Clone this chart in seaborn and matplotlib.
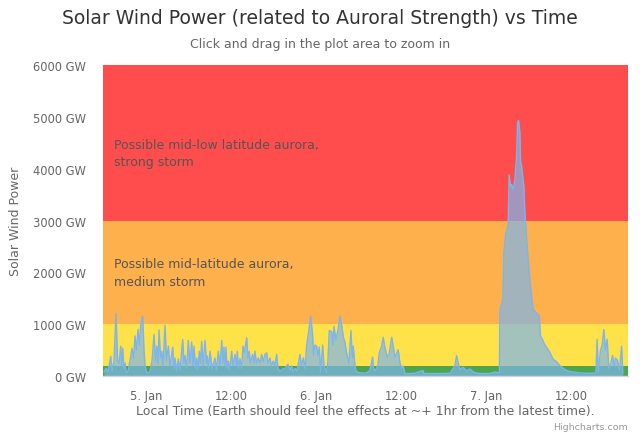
import matplotlib
matplotlib.use("Agg")
import matplotlib.pyplot as plt
import seaborn as sns
import pandas as pd

# ---- data (hours relative to 5 Jan 00:00, values in GW) ----
hours = [-5.93, -5.65, -5.36, -4.98, -4.80, -4.52, -4.24, -4.02, -3.81, -3.57,
         -3.43, -3.29, -3.11, -2.96, -2.82, -2.54, -2.26, -1.98, -1.76, -1.55,
         -1.34, -1.13, -0.92, -0.75, -0.47, -0.28, -0.14, 0.07, 0.28, 0.56,
         0.85, 1.13, 1.34, 1.51, 1.69, 1.84, 2.05, 2.22, 2.40, 2.68,
         2.89, 3.15, 3.39, 3.77, 3.95, 4.09, 4.33, 4.56, 4.80, 5.18,
         5.36, 5.51, 5.75, 5.97, 6.21, 6.45, 6.64, 6.78, 6.99, 7.16,
         7.34, 7.52, 7.69, 7.86, 8.05, 8.33, 8.54, 8.65, 8.82, 9.04,
         9.32, 9.74, 9.95, 10.21, 10.45, 10.69, 10.87, 11.01, 11.15, 11.29,
         11.44, 11.62, 11.79, 12.10, 12.28, 12.57, 12.78, 12.89, 13.06, 13.27,
         13.51, 13.69, 13.88, 14.22, 14.40, 14.58, 14.75, 15.06, 15.25, 15.39,
         15.60, 15.85, 16.09, 16.33, 16.52, 16.80, 17.04, 17.22, 17.51, 17.72,
         17.97, 18.21, 18.45, 18.64, 18.92, 19.20, 19.62, 20.05, 20.33, 20.57,
         20.75, 21.04, 21.32, 21.60, 21.74, 21.95, 22.21, 22.45, 22.69, 22.91,
         23.25, 23.53, 23.65, 23.86, 24.10, 24.28, 24.47, 24.66, 24.95, 25.13,
         25.51, 25.69, 25.88, 26.22, 26.40, 26.54, 26.82, 27.15, 27.39, 27.63,
         27.86, 28.09, 28.33, 28.66, 28.94, 29.15, 29.27, 29.51, 29.65, 29.97,
         30.49, 31.16, 31.62, 32.01, 32.12, 32.33, 32.75, 32.94, 33.28, 33.50,
         33.74, 34.07, 34.35, 34.69, 34.91, 35.15, 35.62, 35.86, 36.14, 36.33,
         36.57, 37.27, 37.98, 39.11, 39.25, 40.10, 41.51, 42.92, 43.38, 43.62,
         43.86, 44.09, 44.33, 44.80, 45.28, 45.74, 46.21, 46.69, 47.15, 48.57,
         49.27, 49.91, 49.98, 50.12, 50.36, 50.47, 50.54, 50.82, 51.15, 51.29,
         51.49, 51.63, 51.86, 52.10, 52.33, 52.48, 52.62, 52.80, 52.90, 53.04,
         53.18, 53.37, 53.51, 53.75, 53.97, 54.21, 54.45, 54.68, 54.92, 55.24,
         55.53, 55.72, 56.01, 56.33, 56.57, 57.04, 57.50, 57.98, 58.45, 58.91,
         59.39, 59.86, 60.81, 61.98, 62.68, 63.53, 63.71, 63.88, 64.19, 64.42,
         64.66, 64.90, 65.13, 65.36, 65.65, 65.89, 66.12, 66.31, 66.59, 66.88,
         67.16, 67.34]

power_gw = [80, 150, 90, 384, 100, 300, 1210, 300, 250, 580,
            200, 540, 150, 250, 70, 100, 300, 540, 350, 775,
            500, 900, 600, 1000, 1160, 500, 200, 80, 60, 90,
            300, 806, 300, 580, 250, 890, 350, 480, 200, 980,
            300, 580, 200, 560, 150, 350, 100, 330, 120, 710,
            250, 400, 150, 690, 250, 660, 200, 580, 150, 350,
            120, 480, 250, 670, 200, 690, 250, 390, 150, 480,
            150, 350, 120, 480, 200, 690, 250, 560, 200, 560,
            150, 290, 120, 480, 200, 420, 200, 480, 150, 340,
            150, 580, 450, 740, 350, 480, 250, 420, 250, 480,
            250, 350, 250, 420, 280, 420, 450, 250, 350, 200,
            290, 200, 420, 150, 90, 130, 150, 230, 110, 200,
            90, 150, 100, 300, 420, 200, 350, 150, 600, 800,
            1160, 800, 400, 600, 580, 400, 560, 80, 600, 200,
            70, 300, 880, 860, 600, 960, 700, 920, 1160, 990,
            760, 650, 450, 250, 880, 350, 580, 200, 100, 70,
            60, 60, 110, 370, 150, 100, 200, 450, 580, 750,
            550, 370, 430, 750, 580, 370, 510, 250, 160, 190,
            50, 50, 55, 110, 50, 50, 50, 55, 150, 200,
            400, 250, 130, 170, 100, 140, 80, 60, 50, 50,
            80, 60, 1290, 1350, 1450, 1800, 2380, 2770, 2900, 3880,
            3650, 3700, 3600, 3800, 4230, 4900, 4930, 4700, 4140, 4050,
            3880, 3650, 3150, 2630, 2250, 1860, 1540, 1290, 1250, 1200,
            1160, 775, 700, 600, 555, 460, 326, 280, 200, 150,
            110, 90, 70, 55, 55, 60, 710, 80, 500, 600,
            900, 500, 710, 150, 250, 400, 200, 350, 300, 120,
            580, 60]

tick_hours = [0, 12, 24, 36, 48, 60]
tick_labels = ["5. Jan", "12:00", "6. Jan", "12:00", "7. Jan", "12:00"]
y_ticks = [0, 1000, 2000, 3000, 4000, 5000, 6000]

band_edges = [0, 200, 1000, 3000, 6000]
band_colors = ["#4da64d", "#ffe14a", "#fdb04b", "#ff4d4d"]

band_texts = ["Possible mid-low latitude aurora,\nstrong storm",
              "Possible mid-latitude aurora,\nmedium storm"]
band_text_y = [4300, 2000]

df = pd.DataFrame({"hours": hours, "power": power_gw})

sns.set_theme(style="white")
plt.rcParams["font.family"] = ["DejaVu Sans"]

fig = plt.figure(figsize=(6.4, 4.35), dpi=100)
ax = fig.add_axes([0.161, 0.133, 0.82, 0.715])

# plot bands
for lo, hi, c in zip(band_edges[:-1], band_edges[1:], band_colors):
    ax.axhspan(lo, hi, color=c, lw=0, zorder=0)

ax.fill_between(df["hours"], df["power"], 0, color="#7cb5ec", alpha=0.7,
                lw=0, zorder=2)
sns.lineplot(data=df, x="hours", y="power", ax=ax, color="#7cb5ec",
             lw=1, zorder=3)

for t, yv in zip(band_texts, band_text_y):
    ax.annotate(t, xy=(0, yv), xycoords=("axes fraction", "data"),
                xytext=(11, 0), textcoords="offset pixels",
                fontsize=9, color="#555555", va="center", ha="left",
                linespacing=1.45, zorder=4)

ax.set_xlim(-6.07, 68.05)
ax.set_ylim(0, 6000)
ax.set_xticks(tick_hours)
ax.set_xticklabels(tick_labels)
ax.set_yticks(y_ticks)
ax.set_yticklabels([f"{v} GW" for v in y_ticks])
ax.tick_params(axis="x", colors="#666666", labelsize=8.3, length=7,
               width=1, direction="out", pad=2)
ax.tick_params(axis="y", colors="#666666", labelsize=8.3, length=0, pad=12.5)
for lab in ax.get_xticklabels():
    lab.set_color("#666666")
ax.xaxis.set_tick_params(color="#ccd6eb")

for s in ["top", "right", "left"]:
    ax.spines[s].set_visible(False)
ax.spines["bottom"].set_color("#ccd6eb")
ax.spines["bottom"].set_linewidth(1)

ax.set_xlabel("Local Time (Earth should feel the effects at ~+ 1hr from the latest time).",
              fontsize=9, color="#666666", labelpad=2)
ax.set_ylabel("Solar Wind Power", fontsize=9, color="#666666", labelpad=8)

fig.text(0.5, 0.958, "Solar Wind Power (related to Auroral Strength) vs Time",
         ha="center", va="center", fontsize=13.5, color="#333333")
fig.text(0.5, 0.897, "Click and drag in the plot area to zoom in",
         ha="center", va="center", fontsize=9, color="#666666")
fig.text(0.981, 0.018, "Highcharts.com", ha="right", va="center",
         fontsize=6.8, color="#999999")

fig.savefig("out.png", dpi=100)
